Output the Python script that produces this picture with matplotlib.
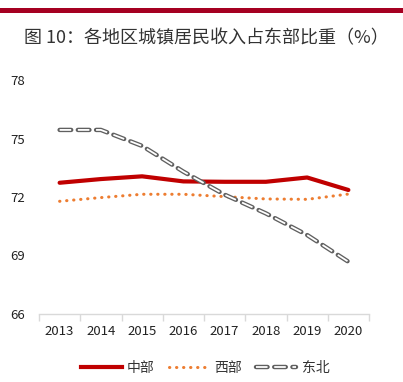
import matplotlib
matplotlib.use("Agg")
import matplotlib.pyplot as plt
from matplotlib.lines import Line2D
from matplotlib.legend_handler import HandlerLine2D
import numpy as np

plt.rcParams['font.family'] = ['Noto Sans CJK SC', 'DejaVu Sans']

years = ['2013', '2014', '2015', '2016', '2017', '2018', '2019', '2020']
central = [72.73, 72.92, 73.06, 72.80, 72.78, 72.78, 73.00, 72.36]
western = [71.78, 71.97, 72.14, 72.14, 72.02, 71.90, 71.88, 72.15]
northeast = [75.44, 75.44, 74.62, 73.30, 72.12, 71.16, 70.05, 68.68]
yticks = [66, 69, 72, 75, 78]
labels = ['中部', '西部', '东北']
title = '图 10：各地区城镇居民收入占东部比重（%）'

GRAY = '#606060'
OUT_LW, IN_LW = 3.2, 1.3
dash = (0, (2.6, 1.5))
white_dash = (0, (2.6 * OUT_LW / IN_LW, 1.5 * OUT_LW / IN_LW))


class HollowDashHandler(HandlerLine2D):
    def create_artists(self, legend, orig_handle, xdescent, ydescent,
                       width, height, fontsize, trans):
        y = height / 2 - ydescent
        xs = [-xdescent, -xdescent + width]
        l1 = Line2D(xs, [y, y], color=GRAY, lw=OUT_LW, linestyle=dash,
                    dash_capstyle='round', transform=trans)
        l2 = Line2D(xs, [y, y], color='white', lw=IN_LW, linestyle=white_dash,
                    dash_capstyle='butt', transform=trans)
        return [l1, l2]


fig = plt.figure(figsize=(4.03, 3.82), dpi=100)
# top dark red bar
fig.add_artist(plt.Rectangle((0, 1 - 13/382), 1, 5/382, transform=fig.transFigure,
                             color='#A50021', lw=0))
fig.text(0.513, 1 - 38/382, title, ha='center', va='center', fontsize=13.0, color='#333333')

ax = fig.add_axes([39/403, 1 - 314/382, 330/403, 234/382])
x = np.arange(len(years))
ax.plot(x, central, color='#C00000', lw=3, solid_capstyle='round', zorder=3)
ax.plot(x, western, color='#ED7D31', lw=2.2, linestyle=(0, (0.1, 2.2)),
        dash_capstyle='round', zorder=3)
ax.plot(x, northeast, color=GRAY, lw=OUT_LW, linestyle=dash, dash_capstyle='round', zorder=4)
ax.plot(x, northeast, color='white', lw=IN_LW, linestyle=white_dash,
        dash_capstyle='butt', zorder=5)

ax.set_xlim(-0.5, 7.5)
ax.set_ylim(66, 78)
ax.set_yticks(yticks)
ax.set_xticks(x)
ax.set_xticklabels(years)
ax.set_xticks(np.arange(-0.5, 8, 1), minor=True)
ax.tick_params(axis='x', which='major', length=0, pad=8, labelsize=9.5, colors='#222222')
ax.tick_params(axis='x', which='minor', length=5, color='#D9D9D9', width=1)
ax.tick_params(axis='y', length=0, pad=10, labelsize=9.5, colors='#222222')
for s in ['top', 'right', 'left']:
    ax.spines[s].set_visible(False)
ax.spines['bottom'].set_color('#D9D9D9')
ax.spines['bottom'].set_linewidth(1)

h_ne = Line2D([], [], color=GRAY, lw=OUT_LW, linestyle=dash)
handles = [
    Line2D([], [], color='#C00000', lw=3),
    Line2D([], [], color='#ED7D31', lw=2.2, linestyle=(0, (0.1, 2.2)), dash_capstyle='round'),
    h_ne,
]
leg = fig.legend(handles, labels, loc='center', bbox_to_anchor=(0.51, 1 - 368/382), ncol=3,
                 frameon=False, fontsize=10, handlelength=2.9, columnspacing=1.0,
                 handletextpad=0.4, handler_map={h_ne: HollowDashHandler()})
for t in leg.get_texts():
    t.set_color('#333333')

fig.savefig('out.png', dpi=100)
